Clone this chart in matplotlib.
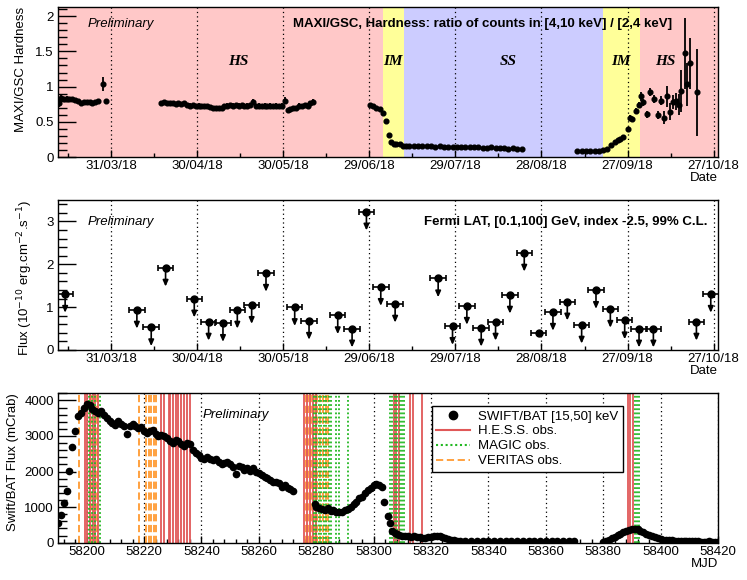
import matplotlib
matplotlib.use('Agg')
import matplotlib.pyplot as plt
from matplotlib.ticker import MultipleLocator
from matplotlib.lines import Line2D
import matplotlib.transforms as mtransforms

plt.rcParams['font.family'] = ['Liberation Sans', 'DejaVu Sans']
plt.rcParams['font.size'] = 9.5

# ---------------- data ----------------
X_MIN, X_MAX = 58190, 58420

date_ticks = [58208.5, 58238.5, 58268.5, 58298.5, 58328.5, 58358.5, 58388.5, 58418.5]
date_labels = ["31/03/18", "30/04/18", "30/05/18", "29/06/18", "29/07/18",
               "28/08/18", "27/09/18", "27/10/18"]

# spectral states (start, end, label, label position)
state_edges = [58190, 58303.2, 58310.5, 58379.9, 58392.7, 58420]
state_names = ["HS", "IM", "SS", "IM", "HS"]
state_label_x = [58253, 58306.8, 58347, 58386.3, 58401.7]
state_colors = ["#ffc8c8", "#ffff99", "#ccccff", "#ffff99", "#ffc8c8"]

# MAXI/GSC hardness
maxi_t = [58190, 58190.5, 58191, 58192, 58193, 58194, 58195, 58196, 58197, 58198,
          58199, 58200, 58201, 58202, 58203, 58204, 58205.6, 58206.6,
          58226, 58227, 58228, 58229, 58230, 58231, 58232, 58233, 58234, 58235,
          58236, 58237, 58238, 58239, 58240, 58241, 58242, 58243, 58244, 58245,
          58246, 58247, 58248, 58249, 58250, 58251, 58252, 58253, 58254, 58255,
          58256, 58257, 58258, 58259, 58260, 58261, 58262, 58263, 58264, 58265,
          58266, 58267, 58268, 58269, 58270, 58271, 58272, 58273, 58274, 58275,
          58276, 58277, 58278, 58279,
          58298.6, 58299.8, 58301, 58302.1, 58303.3, 58304.2, 58305.4, 58306.2,
          58307, 58307.9, 58309.1, 58310.2, 58311.4,
          58312.5, 58314, 58315.5, 58317, 58318.5, 58320, 58321.5, 58323, 58324.5,
          58326, 58327.5, 58329, 58330.5, 58332, 58333.5, 58335, 58336.5, 58338,
          58339.5, 58341, 58342.5, 58344, 58345.5, 58347, 58348.5, 58350, 58351.7,
          58370.9, 58372.5, 58374, 58375.5, 58377, 58378.5, 58380, 58381.2,
          58382.8, 58384, 58385.1, 58386, 58386.9, 58388.6, 58389.2, 58390.2,
          58391.3, 58392.5, 58393.3, 58393.8, 58395.2, 58396.4, 58397.6, 58399,
          58400, 58401.2, 58402.3, 58403.4, 58404.3, 58405.5, 58406.4, 58407.2,
          58408.4, 58409.2, 58410.1, 58412.6]
maxi_h = [0.80, 0.76, 0.84, 0.82, 0.83, 0.82, 0.82, 0.81, 0.80, 0.77,
          0.78, 0.78, 0.78, 0.77, 0.78, 0.80, 1.04, 0.80,
          0.77, 0.78, 0.77, 0.76, 0.76, 0.75, 0.76, 0.75, 0.76, 0.74,
          0.73, 0.74, 0.72, 0.73, 0.72, 0.72, 0.72, 0.71, 0.70, 0.69,
          0.70, 0.69, 0.72, 0.73, 0.74, 0.73, 0.74, 0.73, 0.74, 0.72,
          0.73, 0.74, 0.78, 0.72, 0.73, 0.72, 0.73, 0.72, 0.73, 0.72,
          0.73, 0.72, 0.73, 0.80, 0.67, 0.68, 0.69, 0.70, 0.73, 0.72,
          0.74, 0.73, 0.76, 0.78,
          0.74, 0.72, 0.70, 0.68, 0.62, 0.51, 0.31, 0.21,
          0.19, 0.18, 0.18, 0.15, 0.15,
          0.155, 0.15, 0.15, 0.155, 0.15, 0.15, 0.145, 0.15, 0.145,
          0.14, 0.14, 0.145, 0.14, 0.14, 0.14, 0.135, 0.14, 0.13,
          0.13, 0.135, 0.13, 0.125, 0.13, 0.12, 0.125, 0.12, 0.12,
          0.085, 0.09, 0.085, 0.08, 0.085, 0.09, 0.10, 0.11,
          0.165, 0.21, 0.24, 0.26, 0.29, 0.40, 0.56, 0.54,
          0.65, 0.74, 0.86, 0.78, 0.61, 0.92, 0.82, 0.60,
          0.80, 0.56, 0.86, 0.64, 0.78, 0.79, 0.74, 0.94,
          1.47, 1.03, 1.33, 0.92]
maxi_err = [0.06, 0.05, 0.04, 0.03, 0.03, 0.03, 0.03, 0.03, 0.03, 0.03,
            0.03, 0.03, 0.03, 0.03, 0.03, 0.03, 0.10, 0.03,
            0.03, 0.03, 0.03, 0.03, 0.03, 0.03, 0.03, 0.03, 0.03, 0.03,
            0.03, 0.03, 0.03, 0.03, 0.03, 0.03, 0.03, 0.03, 0.03, 0.03,
            0.03, 0.03, 0.03, 0.03, 0.03, 0.03, 0.03, 0.03, 0.03, 0.03,
            0.03, 0.03, 0.04, 0.03, 0.03, 0.03, 0.03, 0.03, 0.03, 0.03,
            0.03, 0.03, 0.03, 0.05, 0.03, 0.03, 0.03, 0.03, 0.03, 0.03,
            0.03, 0.03, 0.03, 0.04,
            0.03, 0.03, 0.03, 0.03, 0.02, 0.02, 0.01, 0.01,
            0.01, 0.01, 0.01, 0.01, 0.01,
            0.01, 0.01, 0.01, 0.01, 0.01, 0.01, 0.01, 0.01, 0.01,
            0.01, 0.01, 0.01, 0.01, 0.01, 0.01, 0.01, 0.01, 0.01,
            0.01, 0.01, 0.01, 0.01, 0.01, 0.01, 0.01, 0.01, 0.01,
            0.01, 0.01, 0.01, 0.01, 0.01, 0.01, 0.01, 0.01,
            0.01, 0.01, 0.01, 0.01, 0.02, 0.02, 0.03, 0.03,
            0.04, 0.04, 0.06, 0.05, 0.05, 0.06, 0.06, 0.06,
            0.06, 0.09, 0.15, 0.12, 0.10, 0.12, 0.15, 0.30,
            0.50, 0.30, 0.36, 0.62]

# Fermi-LAT upper limits
fermi_t = [58192.5, 58217.5, 58222.5, 58227.5, 58237.5, 58242.5, 58247.5, 58252.5,
           58257.5, 58262.5, 58272.5, 58277.5, 58287.5, 58292.5, 58297.5, 58302.5,
           58307.5, 58322.5, 58327.5, 58332.5, 58337.5, 58342.5, 58347.5, 58352.5,
           58357.5, 58362.5, 58367.5, 58372.5, 58377.5, 58382.5, 58387.5, 58392.5,
           58397.5, 58412.5, 58417.5]
fermi_ul = [1.31, 0.94, 0.53, 1.92, 1.20, 0.66, 0.63, 0.94,
            1.05, 1.80, 1.00, 0.68, 0.81, 0.50, 3.23, 1.47,
            1.08, 1.67, 0.56, 1.03, 0.52, 0.66, 1.29, 2.27,
            0.39, 0.89, 1.13, 0.59, 1.40, 0.96, 0.69, 0.50,
            0.50, 0.66, 1.31]
fermi_halfbin = 2.7
fermi_arrow = 0.44

# Swift/BAT daily flux (mCrab)
bat_t = [58190, 58191.2, 58192.1, 58193, 58194, 58195, 58196, 58197, 58198, 58199,
         58200, 58201, 58202, 58203, 58204, 58205, 58206, 58207, 58208, 58209,
         58210, 58211, 58212, 58213, 58214, 58215, 58216, 58217, 58218, 58219,
         58220, 58221, 58222, 58223, 58224, 58225, 58226, 58227, 58228, 58229,
         58230, 58231, 58232, 58233, 58234, 58235, 58236, 58237, 58238, 58239,
         58240, 58241, 58242, 58243, 58244, 58245, 58246, 58247, 58248, 58249,
         58250, 58251, 58252, 58253, 58254, 58255, 58256, 58257, 58258, 58259,
         58260, 58261, 58262, 58263, 58264, 58265, 58266, 58267, 58268, 58269,
         58270, 58271, 58272,
         58279.5, 58280, 58281, 58282, 58283, 58284, 58285, 58286, 58287, 58288,
         58289, 58290, 58291, 58292, 58293, 58294, 58295, 58296, 58297, 58298,
         58299, 58300, 58301, 58302, 58303, 58303.7, 58304.9, 58305.8, 58306.5,
         58307.6, 58308, 58309, 58310, 58311, 58312, 58313, 58314, 58315, 58316,
         58317, 58318, 58319, 58320, 58321, 58322, 58323, 58324, 58325, 58326,
         58327, 58328, 58329, 58330, 58332, 58334, 58336, 58338, 58340, 58342,
         58344, 58346, 58348, 58350, 58352, 58354, 58356, 58358, 58360, 58362,
         58364, 58366, 58368, 58370,
         58380, 58381, 58382, 58383, 58384, 58385, 58386, 58387, 58388, 58389,
         58390, 58391, 58392, 58393, 58394, 58395, 58396, 58397, 58398, 58399,
         58400, 58401, 58402, 58403, 58404, 58405, 58406, 58407, 58408, 58409,
         58410, 58411, 58412, 58413, 58414, 58415, 58416, 58417, 58418, 58419,
         58420]
bat_f = [545, 780, 1108, 1455, 2020, 2700, 3127, 3550, 3640, 3780,
         3900, 3880, 3765, 3690, 3640, 3710, 3600, 3500, 3410, 3360,
         3315, 3410, 3330, 3270, 3050, 3270, 3330, 3270, 3220, 3240,
         3130, 3080, 3130, 3170, 3050, 3010, 3030, 2990, 2940, 2845,
         2800, 2890, 2845, 2770, 2730, 2800, 2770, 2610, 2520, 2470,
         2395, 2355, 2420, 2355, 2330, 2355, 2280, 2205, 2235, 2280,
         2205, 2140, 1925, 2170, 2140, 2045, 2095, 2020, 2095, 1980,
         1955, 1905, 1860, 1810, 1765, 1720, 1700, 1670, 1580, 1625,
         1550, 1510, 1455,
         1080, 1015, 967, 950, 920, 967, 890, 920, 855, 855,
         873, 920, 950, 1015, 1080, 1155, 1250, 1295, 1390, 1485,
         1550, 1625, 1650, 1610, 1578, 1155, 752, 545, 338,
         263, 240, 215, 200, 190, 180, 170, 175, 170, 150,
         140, 130, 150, 170, 185, 200, 190, 160, 130, 100,
         80, 70, 60, 55, 50, 48, 45, 50, 45, 42,
         42, 45, 40, 42, 45, 40, 42, 38, 40, 42,
         40, 38, 40, 38,
         30, 50, 75, 120, 169, 210, 244, 290, 329, 360,
         385, 385, 375, 340, 310, 235, 210, 188, 150, 122,
         94, 85, 80, 75, 70, 62, 56, 56, 55, 56,
         56, 56, 50, 45, 28, 32, 30, 35, 30, 28,
         28]
bat_err = 60

# VHE observation dates (MJD)
hess_obs = [58199.3, 58200.2, 58201.0, 58202.2, 58203.0, 58204.0,
            58226.0, 58226.9, 58228.7, 58229.2, 58230.1, 58231.0, 58232.0,
            58233.0, 58234.0, 58235.0, 58236.0,
            58275.7, 58276.8, 58277.8, 58278.8, 58279.8,
            58307.0, 58307.9, 58308.7, 58312.8, 58313.7, 58316.7,
            58388.6, 58389.5, 58390.3]
magic_obs = [58200.7, 58201.8, 58202.8, 58204.5,
             58279.2, 58279.9, 58280.8, 58281.8, 58282.7, 58283.5, 58284.4,
             58285.0, 58287.0, 58287.8, 58291.0,
             58305.8, 58306.5, 58307.3, 58308.1, 58309.1, 58309.9, 58310.6,
             58391.0, 58391.7, 58392.6]
veritas_obs = [58197.4, 58201.4, 58203.5,
               58218.3, 58220.7, 58221.6, 58222.5, 58223.4, 58224.3,
               58276.3, 58277.3, 58278.3, 58279.3, 58280.3, 58281.3, 58282.3,
               58283.3, 58284.0]

# ---------------- figure ----------------
fig = plt.figure(figsize=(7.47, 5.8), dpi=100)
L, W = 0.0776, 0.8835
ax1 = fig.add_axes([L, 0.7293, W, 0.2586])
ax2 = fig.add_axes([L, 0.3966, W, 0.2586])
ax3 = fig.add_axes([L, 0.0643, W, 0.2576])

for ax in (ax1, ax2, ax3):
    ax.set_xlim(X_MIN, X_MAX)
    ax.tick_params(axis='y', which='major', direction='in', length=13, width=1,
                   left=True, right=False, pad=3)
    ax.tick_params(axis='y', which='minor', direction='in', length=6.5, width=1,
                   left=True, right=False)
    ax.tick_params(axis='x', which='major', direction='in', length=5, width=1,
                   top=False, pad=2.5)
    ax.tick_params(axis='x', which='minor', direction='in', length=3, width=1,
                   top=False)
    for s in ax.spines.values():
        s.set_linewidth(1.0)
    ax.grid(axis='x', which='major', linestyle=(0, (1, 2.5)), color='k', lw=0.9)

# ---- top panel: MAXI hardness ----
for i in range(len(state_names)):
    ax1.axvspan(state_edges[i], state_edges[i + 1], color=state_colors[i], lw=0, zorder=0)
trans1 = mtransforms.blended_transform_factory(ax1.transData, ax1.transAxes)
for name, xl in zip(state_names, state_label_x):
    ax1.text(xl, 0.635, name, transform=trans1, ha='center', va='center',
             family=['Liberation Serif', 'DejaVu Serif'], style='italic',
             weight='bold', fontsize=11)
ax1.errorbar(maxi_t, maxi_h, yerr=maxi_err, fmt='o', color='k', ms=3.4,
             elinewidth=1.3, capsize=0, zorder=3)
ax1.set_ylim(0, 2.13)
ax1.yaxis.set_major_locator(MultipleLocator(0.5))
ax1.yaxis.set_minor_locator(MultipleLocator(0.1))
ax1.set_yticks([0, 0.5, 1, 1.5, 2], labels=["0", "0.5", "1", "1.5", "2"])
ax1.set_xticks(date_ticks, labels=date_labels)
ax1.xaxis.set_minor_locator(MultipleLocator(15, offset=8.5))
ax1.set_ylabel("MAXI/GSC Hardness", loc='top', labelpad=6)
ax1.set_xlabel("Date", loc='right', labelpad=0)
ax1.text(0.045, 0.887, "Preliminary", transform=ax1.transAxes, style='italic',
         ha='left', va='center')
ax1.text(0.931, 0.887, "MAXI/GSC, Hardness: ratio of counts in [4,10 keV] / [2,4 keV]",
         transform=ax1.transAxes, weight='bold', ha='right', va='center')

# ---- middle panel: Fermi-LAT ULs ----
for t, u in zip(fermi_t, fermi_ul):
    ax2.annotate('', xy=(t, u - fermi_arrow), xytext=(t, u),
                 arrowprops=dict(arrowstyle='-|>,head_length=0.45,head_width=0.2',
                                 color='k', lw=1.2, mutation_scale=8,
                                 shrinkA=0, shrinkB=0),
                 zorder=2)
ax2.errorbar(fermi_t, fermi_ul, xerr=fermi_halfbin, fmt='o', color='k', ms=5,
             elinewidth=1.2, capsize=2, capthick=1.2, zorder=3)
ax2.set_ylim(0, 3.5)
ax2.yaxis.set_major_locator(MultipleLocator(1))
ax2.yaxis.set_minor_locator(MultipleLocator(0.2))
ax2.set_xticks(date_ticks, labels=date_labels)
ax2.xaxis.set_minor_locator(MultipleLocator(15, offset=8.5))
ax2.set_ylabel(r"Flux (10$^{-10}$ erg.cm$^{-2}$.s$^{-1}$)", loc='top', labelpad=8)
ax2.set_xlabel("Date", loc='right', labelpad=0)
ax2.text(0.045, 0.855, "Preliminary", transform=ax2.transAxes, style='italic',
         ha='left', va='center')
ax2.text(0.984, 0.855, "Fermi LAT, [0.1,100] GeV, index -2.5, 99% C.L.",
         transform=ax2.transAxes, weight='bold', ha='right', va='center')

# ---- bottom panel: Swift/BAT ----
hess_c, magic_c, veritas_c = '#e05858', '#22b822', '#ff9a30'
for t in veritas_obs:
    ax3.axvline(t, color=veritas_c, lw=1.3, ls=(0, (4, 2)), zorder=2)
for t in hess_obs:
    ax3.axvline(t, color=hess_c, lw=1.3, ls='-', zorder=2)
for t in magic_obs:
    ax3.axvline(t, color=magic_c, lw=1.3, ls=(0, (1, 1.3)), zorder=2)
ax3.errorbar(bat_t, bat_f, yerr=bat_err, fmt='o', color='k', ms=4.5,
             elinewidth=1, capsize=0, zorder=4)
ax3.set_ylim(0, 4200)
ax3.yaxis.set_major_locator(MultipleLocator(1000))
ax3.yaxis.set_minor_locator(MultipleLocator(200))
ax3.xaxis.set_major_locator(MultipleLocator(20))
ax3.xaxis.set_minor_locator(MultipleLocator(4))
ax3.set_ylabel("Swift/BAT Flux (mCrab)", loc='top', labelpad=4)
ax3.set_xlabel("MJD", loc='right', labelpad=0)
ax3.text(0.219, 0.855, "Preliminary", transform=ax3.transAxes, style='italic',
         ha='left', va='center')

handles = [Line2D([], [], marker='o', ls='none', color='k', ms=6),
           Line2D([], [], color=hess_c, lw=1.5),
           Line2D([], [], color=magic_c, lw=1.5, ls=(0, (1, 1.3))),
           Line2D([], [], color=veritas_c, lw=1.3, ls=(0, (4, 2)))]
labels = ["SWIFT/BAT [15,50] keV", "H.E.S.S. obs.", "MAGIC obs.", "VERITAS obs."]
leg = ax3.legend(handles, labels, loc='upper left', bbox_to_anchor=(0.566, 0.917),
                 frameon=True, fancybox=False, framealpha=1, edgecolor='k',
                 handlelength=2.6, handletextpad=0.6, labelspacing=0.2,
                 borderpad=0.35, borderaxespad=0, fontsize=9.5)
leg.get_frame().set_linewidth(1.0)
leg.set_zorder(10)

fig.savefig('out.png', dpi=100)
